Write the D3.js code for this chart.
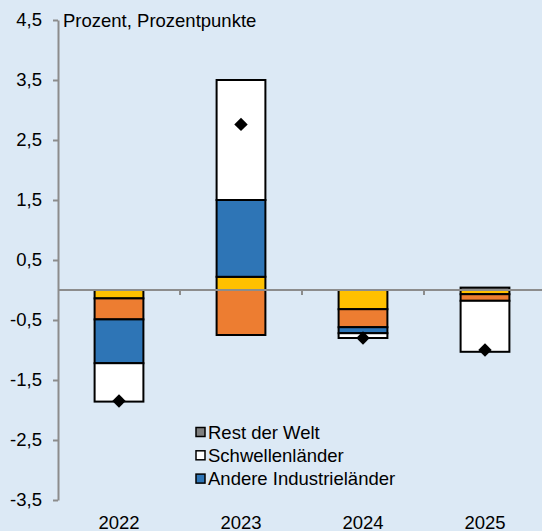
<!DOCTYPE html>
<html>
  <head>
    <meta charset="utf-8">
    <title>Wachstumsbeiträge</title>
    <script src="https://d3js.org/d3.v7.min.js"></script>
    <style>
      body { margin: 0; background: #dce9f5; }
      svg { display: block; font-family: "Liberation Sans", Arial, sans-serif; }
    </style>
  </head>
  <body>
    <svg width="542" height="531"></svg>

  <script>
    // data
    var years = ["2022", "2023", "2024", "2025"];
    var seriesNames = ["Beitrag A", "Beitrag B", "Andere Industrieländer", "Schwellenländer", "Rest der Welt"];
    var yellowVals = [-0.14, 0.22, -0.32, -0.07];
    var orangeVals = [-0.35, -0.75, -0.30, -0.11];
    var blueVals = [-0.73, 1.28, -0.10, 0.00];
    var whiteVals = [-0.64, 2.00, -0.08, -0.85];
    var greyVals = [0.00, 0.00, 0.00, 0.04];
    var totalVals = [-1.85, 2.76, -0.80, -1.00];
    var yTicks = [-3.5, -2.5, -1.5, -0.5, 0.5, 1.5, 2.5, 3.5, 4.5];
    var legendNames = ["Rest der Welt", "Schwellenländer", "Andere Industrieländer"];

    var colors = ["#ffc000", "#ed7d31", "#2e75b6", "#ffffff", "#7f7f7f"];
    var allVals = [yellowVals, orangeVals, blueVals, whiteVals, greyVals];
    var fs = "18.5px";

    var svg = d3.select("svg");
    var mLeft = 58, mRight = 546, mTop = 20, mBottom = 500;

    var x = d3.scaleBand().domain(years).range([mLeft, mRight]).paddingInner(0.6).paddingOuter(0.3);
    var xb = d3.scaleBand().domain(years).range([mLeft, mRight]);
    var y = d3.scaleLinear().domain([-3.5, 4.5]).range([mBottom, mTop]);

    // build stacked segments (positive and negative separately)
    var segs = [];
    years.forEach(function(yr, i) {
      var pos = 0, neg = 0;
      allVals.forEach(function(vals, s) {
        var v = vals[i];
        if (v === 0) return;
        if (v > 0) { segs.push({ year: yr, s: s, y0: pos, y1: pos + v }); pos += v; }
        else { segs.push({ year: yr, s: s, y0: neg, y1: neg + v }); neg += v; }
      });
    });

    // y axis
    var yAxis = svg.append("g")
      .attr("transform", "translate(" + mLeft + ",0)")
      .call(d3.axisLeft(y).tickValues(yTicks).tickSize(5).tickSizeOuter(0)
        .tickFormat(function(d) { return d3.format(".1f")(d).replace(".", ",").replace("−", "-"); }));
    yAxis.select(".domain").attr("stroke", "#8c8c8c").attr("stroke-width", 2);
    yAxis.selectAll(".tick line").attr("stroke", "#8c8c8c").attr("stroke-width", 2);
    yAxis.selectAll(".tick text").attr("font-size", fs).attr("fill", "#000")
      .attr("font-family", "Liberation Sans, Arial, sans-serif").attr("x", -16);

    // bars
    svg.append("g").selectAll("rect")
      .data(segs)
      .enter().append("rect")
      .attr("x", function(d) { return x(d.year); })
      .attr("width", x.bandwidth())
      .attr("y", function(d) { return y(Math.max(d.y0, d.y1)); })
      .attr("height", function(d) { return Math.abs(y(d.y0) - y(d.y1)); })
      .attr("fill", function(d) { return colors[d.s]; })
      .attr("stroke", "#000")
      .attr("stroke-width", 2);

    // zero line with category ticks
    svg.append("line")
      .attr("x1", mLeft).attr("x2", 542)
      .attr("y1", y(0)).attr("y2", y(0))
      .attr("stroke", "#8c8c8c").attr("stroke-width", 2);
    svg.append("g").selectAll("line")
      .data(years.slice(1))
      .enter().append("line")
      .attr("x1", function(d) { return xb(d); })
      .attr("x2", function(d) { return xb(d); })
      .attr("y1", y(0)).attr("y2", y(0) + 5)
      .attr("stroke", "#8c8c8c").attr("stroke-width", 2);

    // totals
    svg.append("g").selectAll("path")
      .data(totalVals)
      .enter().append("path")
      .attr("d", d3.symbol(d3.symbolSquare, 90))
      .attr("transform", function(d, i) {
        return "translate(" + (x(years[i]) + x.bandwidth() / 2) + "," + y(d) + ") rotate(45)";
      })
      .attr("fill", "#000");

    // year labels
    svg.append("g").selectAll("text")
      .data(years)
      .enter().append("text")
      .attr("x", function(d) { return xb(d) + xb.bandwidth() / 2; })
      .attr("y", 528.5)
      .attr("text-anchor", "middle")
      .attr("font-size", fs)
      .text(function(d) { return d; });

    // unit label
    svg.append("text")
      .attr("x", 63).attr("y", 27)
      .attr("font-size", fs)
      .text("Prozent, Prozentpunkte");

    // legend
    var legendColors = [colors[4], colors[3], colors[2]];
    var lg = svg.append("g").selectAll("g")
      .data(legendNames)
      .enter().append("g")
      .attr("transform", function(d, i) { return "translate(196," + (432 + i * 23.3) + ")"; });
    lg.append("rect")
      .attr("x", 0).attr("y", -4.5).attr("width", 9).attr("height", 9)
      .attr("fill", function(d, i) { return legendColors[i]; })
      .attr("stroke", "#000").attr("stroke-width", 1.5);
    lg.append("text")
      .attr("x", 12).attr("y", 6.5)
      .attr("font-size", fs)
      .text(function(d) { return d; });
  </script>
  </body>
</html>
